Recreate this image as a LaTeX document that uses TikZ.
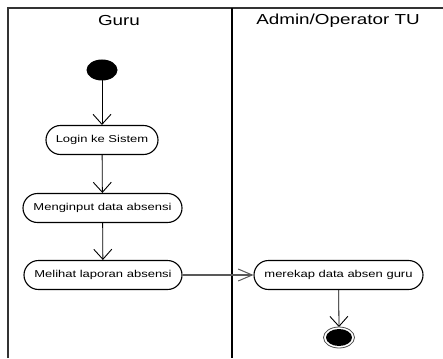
\documentclass[tikz,border=0pt]{standalone}
\usepackage{fontspec}
\setmainfont{Liberation Sans}
\newfontfamily\widefont[FakeStretch=1.3]{Liberation Sans}
\usetikzlibrary{arrows.meta}
\begin{document}
\begin{tikzpicture}[x=1pt,y=-1pt,
  act/.style={draw, line width=1.1pt, rounded corners=14.5pt, minimum height=29pt, inner sep=0pt,
    font=\widefont\fontsize{10}{12}\selectfont},
  hdr/.style={font=\widefont\fontsize{14.5}{17}\selectfont, inner sep=0pt},
  flow/.style={draw, line width=0.8pt, -{Straight Barb[length=10pt,width=18pt,line width=0.9pt]}},
  frame/.style={line width=1.2pt, black!80}]
\useasboundingbox (0,0) rectangle (443,358);
% swimlane frame
\draw[frame] (8,358) -- (8,8) -- (443,8);
\draw[frame, black] (232,8) -- (232,358);
% headers
\node[hdr] (h1) at (119,21) {Guru};
\node[hdr] (h2) at (338,21) {Admin/Operator TU};
% start
\fill (102,70) ellipse [x radius=15.5, y radius=10.5];
\coordinate (start) at (102,80.5);
% activities
\node[act, minimum width=112pt] (login) at (102,140) {Login ke Sistem};
\node[act, minimum width=159pt] (input) at (102.5,208) {Menginput data absensi};
\node[act, minimum width=158pt] (lihat) at (103,275) {Melihat laporan absensi};
\node[act, minimum width=169pt] (rekap) at (338.5,275) {merekap data absen guru};
% end
\draw[line width=0.8pt, black!70] (339,337.5) ellipse [x radius=15.5, y radius=10.5];
\fill (339,337.5) ellipse [x radius=13, y radius=8.5];
\coordinate (end) at (339,327);
% flows
\draw[flow] (start) -- (login);
\draw[flow] (login) -- (input);
\draw[flow] (input) -- (lihat);
\draw[draw, line width=2pt, black!65, -{Straight Barb[length=14pt,width=12pt,line width=1pt]}] (lihat) -- (rekap);
\draw[flow] (rekap) -- (end);
\end{tikzpicture}
\end{document}
